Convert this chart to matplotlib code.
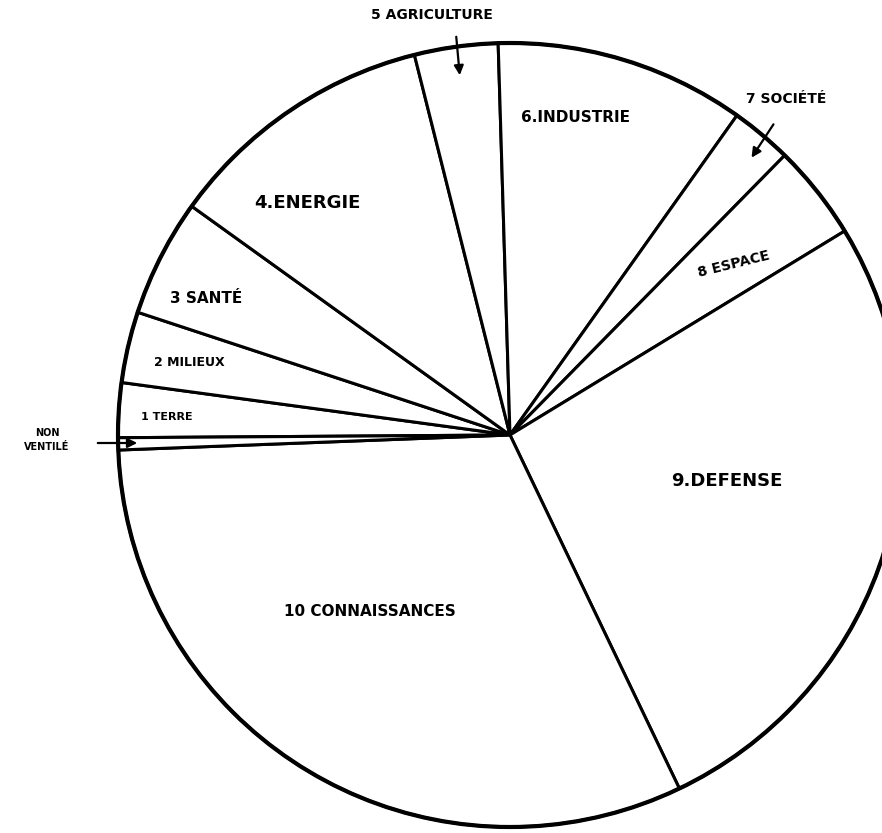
import matplotlib.pyplot as plt

# parts of the budget, clockwise from the left (percent)
labels = ['1 TERRE', '2 MILIEUX', '3 SANTÉ', '4.ENERGIE', '5 AGRICULTURE',
          '6.INDUSTRIE', '7 SOCIÉTÉ', '8 ESPACE', '9.DEFENSE',
          '10 CONNAISSANCES', 'NON\nVENTILÉ']
values = [2.25, 2.93, 4.85, 11.16, 3.44, 10.31, 2.53, 3.93, 26.6, 31.5, 0.5]

W, H = 882, 833
cx, cy, r = 510, H - 435, 392

fig = plt.figure(figsize=(W / 100, H / 100), dpi=100)
ax = fig.add_axes([0, 0, 1, 1])

wedges, _ = ax.pie(values, startangle=180.4, counterclock=False,
                   center=(cx, cy), radius=r,
                   colors=['white'] * len(values),
                   wedgeprops=dict(edgecolor='black', linewidth=2.2))
ax.add_patch(plt.Circle((cx, cy), r, fill=False, lw=3, color='black'))

# hand placed labels: (x, y in pixels from top, size, rotation)
spots = [(167, 417, 8, 0), (189, 362, 9, 0), (206, 298, 11, 0),
         (307, 203, 13, 0), (432, 15, 10, 0), (576, 117, 11, 0),
         (786, 99, 10, 0), (734, 264, 10, 14), (727, 481, 13, 0),
         (370, 612, 11, 0), (47, 440, 7, 0)]
for lab, (x, y, s, rot) in zip(labels, spots):
    ax.text(x, H - y, lab, fontsize=s, fontweight='bold', rotation=rot,
            ha='center', va='center', linespacing=1.4)

arrow = dict(arrowstyle='-|>', color='black', lw=1.6, mutation_scale=14)
ax.annotate('', xy=(460, H - 78), xytext=(456, H - 34), arrowprops=arrow)
ax.annotate('', xy=(750, H - 160), xytext=(775, H - 122), arrowprops=arrow)
ax.annotate('', xy=(140, H - 443), xytext=(95, H - 443), arrowprops=arrow)

ax.set_xlim(0, W)
ax.set_ylim(0, H)
ax.set_aspect('equal')
ax.axis('off')
fig.savefig('out.png', dpi=100, facecolor='white')
